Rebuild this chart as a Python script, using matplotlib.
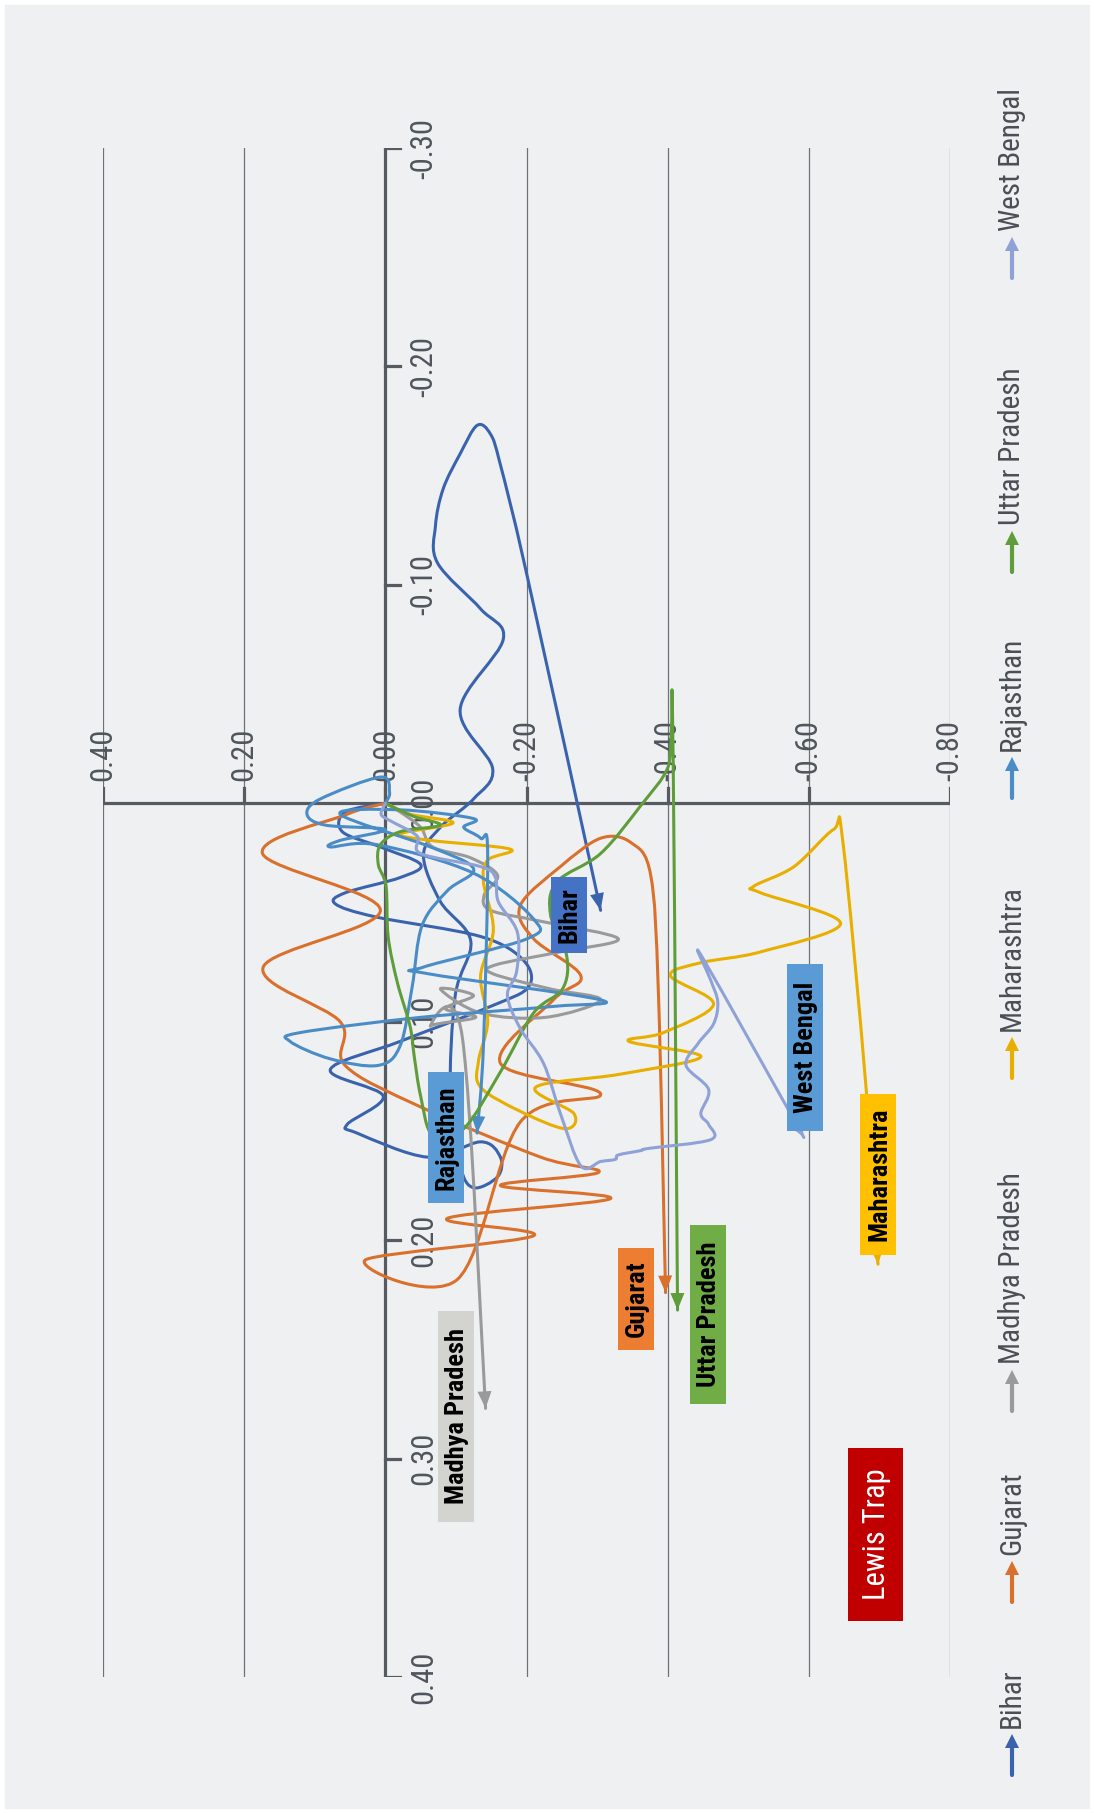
import numpy as np
import matplotlib.pyplot as plt
from matplotlib.path import Path
from matplotlib.patches import PathPatch, Rectangle, Polygon
from matplotlib import font_manager as fm

# ---- data (h = horizontal value, v = vertical value) ----
states = ['Bihar', 'Gujarat', 'Madhya Pradesh', 'Maharashtra',
          'Rajasthan', 'Uttar Pradesh', 'West Bengal']

bihar_h = [0, 0.057, 0.061, 0.007, -0.050, -0.021, 0.057, 0.071, 0.014, -0.135, -0.196, -0.203,
           -0.149, -0.021, 0.078, 0.003, 0.054, 0.040, -0.060, -0.135, -0.163, -0.159, -0.125,
           -0.106, -0.092, -0.099, -0.121, -0.078, -0.054, -0.078, -0.125, -0.152, -0.106,
           -0.167, -0.135, -0.074, -0.071, -0.082, -0.106, -0.130, -0.149, -0.163, -0.201, -0.305]
bihar_v = [0, 0.004, 0.013, 0.020, 0.028, 0.034, 0.041, 0.046, 0.052, 0.061, 0.072, 0.084,
           0.093, 0.109, 0.122, 0.134, 0.147, 0.151, 0.162, 0.155, 0.162, 0.171, 0.176,
           0.166, 0.134, 0.088, 0.063, 0.045, 0.024, 0.011, -0.002, -0.016, -0.043,
           -0.075, -0.089, -0.110, -0.127, -0.144, -0.160, -0.173, -0.169, -0.155, -0.104, 0.049]

gujarat_h = [0, 0.054, 0.174, 0.007, 0.173, 0.064, 0.057, -0.050, -0.220, -0.302, -0.163, -0.319,
             -0.088, -0.210, 0.028, -0.102, -0.191, -0.305, -0.163, -0.238, -0.277, -0.210,
             -0.191, -0.248, -0.305, -0.348, -0.376, -0.387, -0.397]
gujarat_v = [0, 0.005, 0.023, 0.049, 0.075, 0.100, 0.120, 0.139, 0.162, 0.169, 0.175, 0.181,
             0.190, 0.198, 0.209, 0.218, 0.146, 0.133, 0.119, 0.090, 0.079, 0.062,
             0.047, 0.029, 0.016, 0.018, 0.033, 0.088, 0.224]

mp_h = [0, -0.021, -0.050, -0.067, -0.121, -0.159, -0.140, -0.149, -0.220, -0.330, -0.248, -0.156,
        -0.152, -0.234, -0.305, -0.227, -0.135, -0.078, -0.125, -0.085, -0.128, -0.064, -0.109, -0.142]
mp_v = [0, 0.004, 0.011, 0.020, 0.025, 0.033, 0.042, 0.049, 0.054, 0.062, 0.068, 0.074,
        0.078, 0.085, 0.090, 0.098, 0.096, 0.085, 0.088, 0.094, 0.098, 0.102, 0.107, 0.277]

maha_h = [0, -0.035, -0.096, -0.021, -0.064, -0.177, -0.145, -0.139, -0.153, -0.135, -0.145, -0.132,
          -0.135, -0.191, -0.255, -0.267, -0.213, -0.333, -0.447, -0.345, -0.394, -0.465, -0.404,
          -0.447, -0.532, -0.645, -0.532, -0.522, -0.579, -0.635, -0.648, -0.681, -0.698]
maha_v = [0, 0.005, 0.009, 0.014, 0.017, 0.021, 0.026, 0.036, 0.058, 0.079, 0.100, 0.118,
          0.130, 0.141, 0.149, 0.142, 0.130, 0.124, 0.116, 0.109, 0.105, 0.092, 0.079,
          0.073, 0.068, 0.055, 0.041, 0.038, 0.029, 0.012, 0.017, 0.130, 0.211]

raj_h = [0, -0.006, 0.007, 0.092, 0.111, 0.085, 0, 0.064, 0.078, 0.011, -0.125, -0.210, -0.201,
         -0.054, -0.060, -0.305, -0.238, -0.050, 0.121, 0.135, 0.078, 0.010, -0.021, -0.038,
         -0.052, -0.088, -0.125, -0.064, 0.064, -0.021, -0.125, -0.111, -0.135, -0.145, -0.139, -0.130]
raj_v = [0, -0.005, -0.012, -0.002, 0.005, 0.010, 0.012, 0.017, 0.020, 0.019, 0.032, 0.053, 0.062,
         0.075, 0.078, 0.090, 0.093, 0.098, 0.105, 0.109, 0.117, 0.120, 0.111, 0.084,
         0.056, 0.040, 0.030, 0.020, 0.005, 0.003, 0.007, 0.011, 0.016, 0.023, 0.111, 0.151]

up_h = [0, -0.040, -0.078, -0.021, 0.007, 0.010, -0.001, -0.004, -0.017, -0.035, -0.041, -0.050,
        -0.067, -0.111, -0.163, -0.210, -0.251, -0.257, -0.234, -0.243, -0.305, -0.362, -0.401,
        -0.407, -0.414]
up_v = [0, 0.006, 0.010, 0.013, 0.019, 0.028, 0.038, 0.061, 0.082, 0.102, 0.116, 0.134,
        0.152, 0.149, 0.123, 0.096, 0.085, 0.070, 0.051, 0.036, 0.023, 0.001, -0.017,
        -0.038, 0.232]

wb_h = [0, 0.006, -0.007, -0.045, -0.050, -0.135, -0.156, -0.160, -0.187, -0.186, -0.173, -0.191,
        -0.224, -0.248, -0.277, -0.305, -0.326, -0.330, -0.362, -0.373, -0.461, -0.458, -0.447,
        -0.458, -0.426, -0.443, -0.465, -0.471, -0.461, -0.450, -0.593]
wb_v = [0, 0.005, 0.008, 0.015, 0.023, 0.029, 0.034, 0.045, 0.059, 0.077, 0.088, 0.103,
        0.119, 0.142, 0.166, 0.164, 0.163, 0.161, 0.159, 0.158, 0.154, 0.147, 0.142,
        0.131, 0.120, 0.110, 0.101, 0.091, 0.081, 0.071, 0.153]

h_ticks = [0.40, 0.20, 0.00, -0.20, -0.40, -0.60, -0.80]
v_ticks = [-0.30, -0.20, -0.10, 0.00, 0.10, 0.20, 0.30, 0.40]

series_h = [bihar_h, gujarat_h, mp_h, maha_h, raj_h, up_h, wb_h]
series_v = [bihar_v, gujarat_v, mp_v, maha_v, raj_v, up_v, wb_v]
line_colors = ['#3a63ae', '#d9702b', '#9a9a9a', '#e8ae00', '#4a8cc6', '#5f9d3b', '#8fa2d8']
box_colors = ['#4472c4', '#ed7d31', '#d3d3d0', '#ffc000', '#5b9bd5', '#70ad47', '#5b9bd5']


# ---- fonts: a condensed face if one is installed ----
def find_font(names, bold):
    for nm in names:
        for f in fm.fontManager.ttflist:
            if f.name != nm or f.style != 'normal':
                continue
            if nm == 'DejaVu Sans' and f.stretch not in ('condensed', 'semi-condensed'):
                continue
            w = f.weight
            if (bold and w in (700, 'bold')) or (not bold and w in (400, 'normal', 'regular')):
                return f.fname
    return None


cond = ['Liberation Sans Narrow', 'Roboto Condensed', 'Open Sans Condensed', 'DejaVu Sans']
reg_file = find_font(cond, False)
bold_file = find_font(cond, True)

if reg_file:
    tick_font = dict(fontproperties=fm.FontProperties(fname=reg_file, size=22))
    leg_font = dict(fontproperties=fm.FontProperties(fname=reg_file, size=21))
    trap_font = dict(fontproperties=fm.FontProperties(fname=reg_file, size=22))
else:
    tick_font = dict(family='Liberation Sans', fontsize=18.5)
    leg_font = dict(family='Liberation Sans', fontsize=17.5)
    trap_font = dict(family='Liberation Sans', fontsize=18)
if bold_file:
    box_font = dict(fontproperties=fm.FontProperties(fname=bold_file, size=19))
else:
    box_font = dict(family='Liberation Sans', fontweight='bold', fontsize=16)
tick_col = '#4f555c'

W, H = 1094, 1813
fig = plt.figure(figsize=(W / 100, H / 100), dpi=100)
fig.patch.set_facecolor('white')

bg = fig.add_axes([0, 0, 1, 1], zorder=0)
bg.set_xlim(0, W)
bg.set_ylim(H, 0)
bg.axis('off')
bg.add_patch(Rectangle((5, 5), W - 10, H - 10, color='#eff0f2'))

ax = fig.add_axes([103 / W, 1 - 1677 / H, 847 / W, 1529 / H], zorder=1)
ax.set_xlim(0.40, -0.80)
ax.set_ylim(0.40, -0.30)
ax.axis('off')

# grid + axes
for x in h_ticks:
    ax.plot([x, x], [-0.30, 0.40], color='#6d7277', lw=0.9, zorder=1)
ax.plot([0.40, -0.80], [0, 0], color='#555b61', lw=2.3, zorder=2, solid_capstyle='butt')
ax.plot([0, 0], [-0.30, 0.40], color='#555b61', lw=2.3, zorder=2, solid_capstyle='butt')
for x in h_ticks:
    ax.plot([x, x], [0, -0.0068], color='#555b61', lw=2.3, zorder=2)
    ax.text(x, -0.010, f'{x:.2f}', rotation=90, ha='center', va='bottom',
            color=tick_col, zorder=2, **tick_font)
for y in v_ticks:
    ax.plot([0, -0.021], [y, y], color='#555b61', lw=2.3, zorder=2)
    ax.text(-0.054, y, f'{y:.2f}', rotation=90, ha='center', va='center',
            color=tick_col, zorder=2, **tick_font)


def smooth(pts):
    p = np.asarray(pts, float)
    verts, codes = [p[0]], [Path.MOVETO]
    n = len(p)
    c2 = p[0]
    for i in range(n - 1):
        p0 = p[i - 1] if i > 0 else p[i]
        p1, p2 = p[i], p[i + 1]
        p3 = p[i + 2] if i + 2 < n else p[i + 1]
        c1 = p1 + (p2 - p0) / 6
        c2 = p2 - (p3 - p1) / 6
        verts += [c1, c2, p2]
        codes += [Path.CURVE4] * 3
    return Path(verts, codes), c2


for hs, vs, col in zip(series_h, series_v, line_colors):
    pts = np.column_stack([hs, vs])
    path, c2 = smooth(pts)
    ax.add_patch(PathPatch(path, fill=False, edgecolor=col, lw=2.2,
                           capstyle='round', joinstyle='round', zorder=3))
    # arrow head along the last tangent
    e = ax.transData.transform(pts[-1])
    c = ax.transData.transform(c2)
    d = (e - c) / np.hypot(*(e - c))
    nrm = np.array([-d[1], d[0]])
    base = e - d * 17
    tri = np.array([e, base + nrm * 7, base - nrm * 7])
    ax.add_patch(Polygon(ax.transData.inverted().transform(tri), closed=True,
                         color=col, lw=0, zorder=3))

# ---- overlay: labels and legend ----
ov = fig.add_axes([0, 0, 1, 1], zorder=3)
ov.set_xlim(0, W)
ov.set_ylim(H, 0)
ov.axis('off')

label_boxes = {
    'Bihar': (551, 877, 36, 76),
    'Gujarat': (618, 1248, 36, 102),
    'Madhya Pradesh': (438, 1311, 36, 211),
    'Maharashtra': (860, 1094, 36, 161),
    'Rajasthan': (428, 1072, 36, 131),
    'Uttar Pradesh': (690, 1225, 36, 179),
    'West Bengal': (787, 964, 36, 167),
}
for name, bc in zip(states, box_colors):
    x0, y0, bw, bh = label_boxes[name]
    ov.add_patch(Rectangle((x0, y0), bw, bh, color=bc, lw=0))
    ov.text(x0 + bw / 2 + 1, y0 + bh / 2, name, rotation=90, ha='center', va='center',
            color='black', **box_font)

ov.add_patch(Rectangle((848, 1448), 55, 173, color='#c00000', lw=0))
ov.text(876.5, 1534.5, 'Lewis Trap', rotation=90, ha='center', va='center',
        color='white', **trap_font)

legend_y = [1775, 1602, 1411, 1078, 798, 572, 278]
lx = 1012
for name, col, yb in zip(states, line_colors, legend_y):
    tip = yb - 41
    ov.plot([lx, lx], [yb, tip + 12], color=col, lw=3, solid_capstyle='round')
    ov.add_patch(Polygon([[lx, tip], [lx - 7, tip + 14], [lx + 7, tip + 14]],
                         closed=True, color=col, lw=0))
    ov.text(lx, tip - 6, name, rotation=90, ha='center', va='bottom',
            color='#4a4f55', **leg_font)

fig.savefig('out.png', dpi=100, facecolor=fig.get_facecolor())
